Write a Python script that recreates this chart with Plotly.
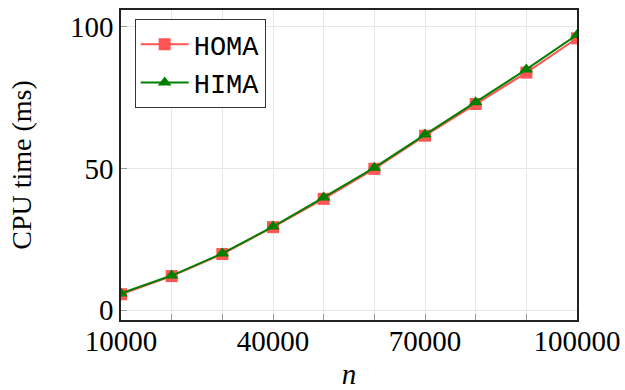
import plotly.graph_objects as go

n_values = [10000, 20000, 30000, 40000, 50000, 60000, 70000, 80000, 90000, 100000]
homa_ms = [5.6, 12.0, 19.8, 29.3, 39.3, 49.9, 61.6, 72.8, 83.9, 96.0]
hima_ms = [5.9, 12.2, 20.0, 29.5, 39.8, 50.3, 62.0, 73.4, 85.0, 97.2]
x_tickvals = [10000, 20000, 30000, 40000, 50000, 60000, 70000, 80000, 90000, 100000]
x_ticktext = ["10000", "", "", "40000", "", "", "70000", "", "", "100000"]
y_tickvals = [0, 50, 100]

serif = "Liberation Serif, Times New Roman, serif"
mono = "Liberation Mono, Courier New, monospace"

fig = go.Figure()
fig.add_trace(go.Scatter(
    x=n_values, y=homa_ms, name="HOMA", mode="lines+markers",
    line=dict(color="#FF5555", width=2),
    marker=dict(symbol="square", size=12, color="#FF5555"),
))
fig.add_trace(go.Scatter(
    x=n_values, y=hima_ms, name="HIMA", mode="lines+markers",
    line=dict(color="#008000", width=2),
    marker=dict(symbol="triangle-up", size=12, color="#008000"),
))

fig.update_layout(
    width=625, height=390,
    margin=dict(l=121, r=48, t=10, b=70),
    plot_bgcolor="white", paper_bgcolor="white",
    font=dict(family=serif, size=29, color="black"),
    showlegend=True,
    legend=dict(
        x=0.03, y=0.97, xanchor="left", yanchor="top",
        bgcolor="white", bordercolor="#333333", borderwidth=1,
        font=dict(family=mono, size=27, color="black"),
        itemwidth=48, tracegroupgap=0,
        entrywidth=138, entrywidthmode="pixels",
    ),
)
fig.update_xaxes(
    range=[10000, 100000], automargin=False,
    tickvals=x_tickvals, ticktext=x_ticktext,
    ticks="inside", ticklen=6, tickcolor="#999999", tickwidth=1,
    ticklabelstandoff=-6,
    showgrid=True, gridcolor="#e6e6e6", gridwidth=1,
    showline=True, linecolor="#222222", linewidth=1.5, mirror=True,
    zeroline=False,
    tickfont=dict(family=serif, size=29),
    title=dict(text="<i>n</i>", font=dict(family=serif, size=29), standoff=14),
)
fig.update_yaxes(
    range=[-3.5, 106], automargin=False,
    tickvals=y_tickvals,
    ticks="inside", ticklen=6, tickcolor="#999999", tickwidth=1,
    showgrid=True, gridcolor="#e6e6e6", gridwidth=1,
    showline=True, linecolor="#222222", linewidth=1.5, mirror=True,
    zeroline=False,
    tickfont=dict(family=serif, size=29),
    title=dict(text="CPU time (ms)", font=dict(family=serif, size=28), standoff=30),
)

fig.write_html(
    "out.html",
    config={"displayModeBar": False},
    post_script="document.body.style.margin='0';document.body.style.overflow='hidden';",
)
